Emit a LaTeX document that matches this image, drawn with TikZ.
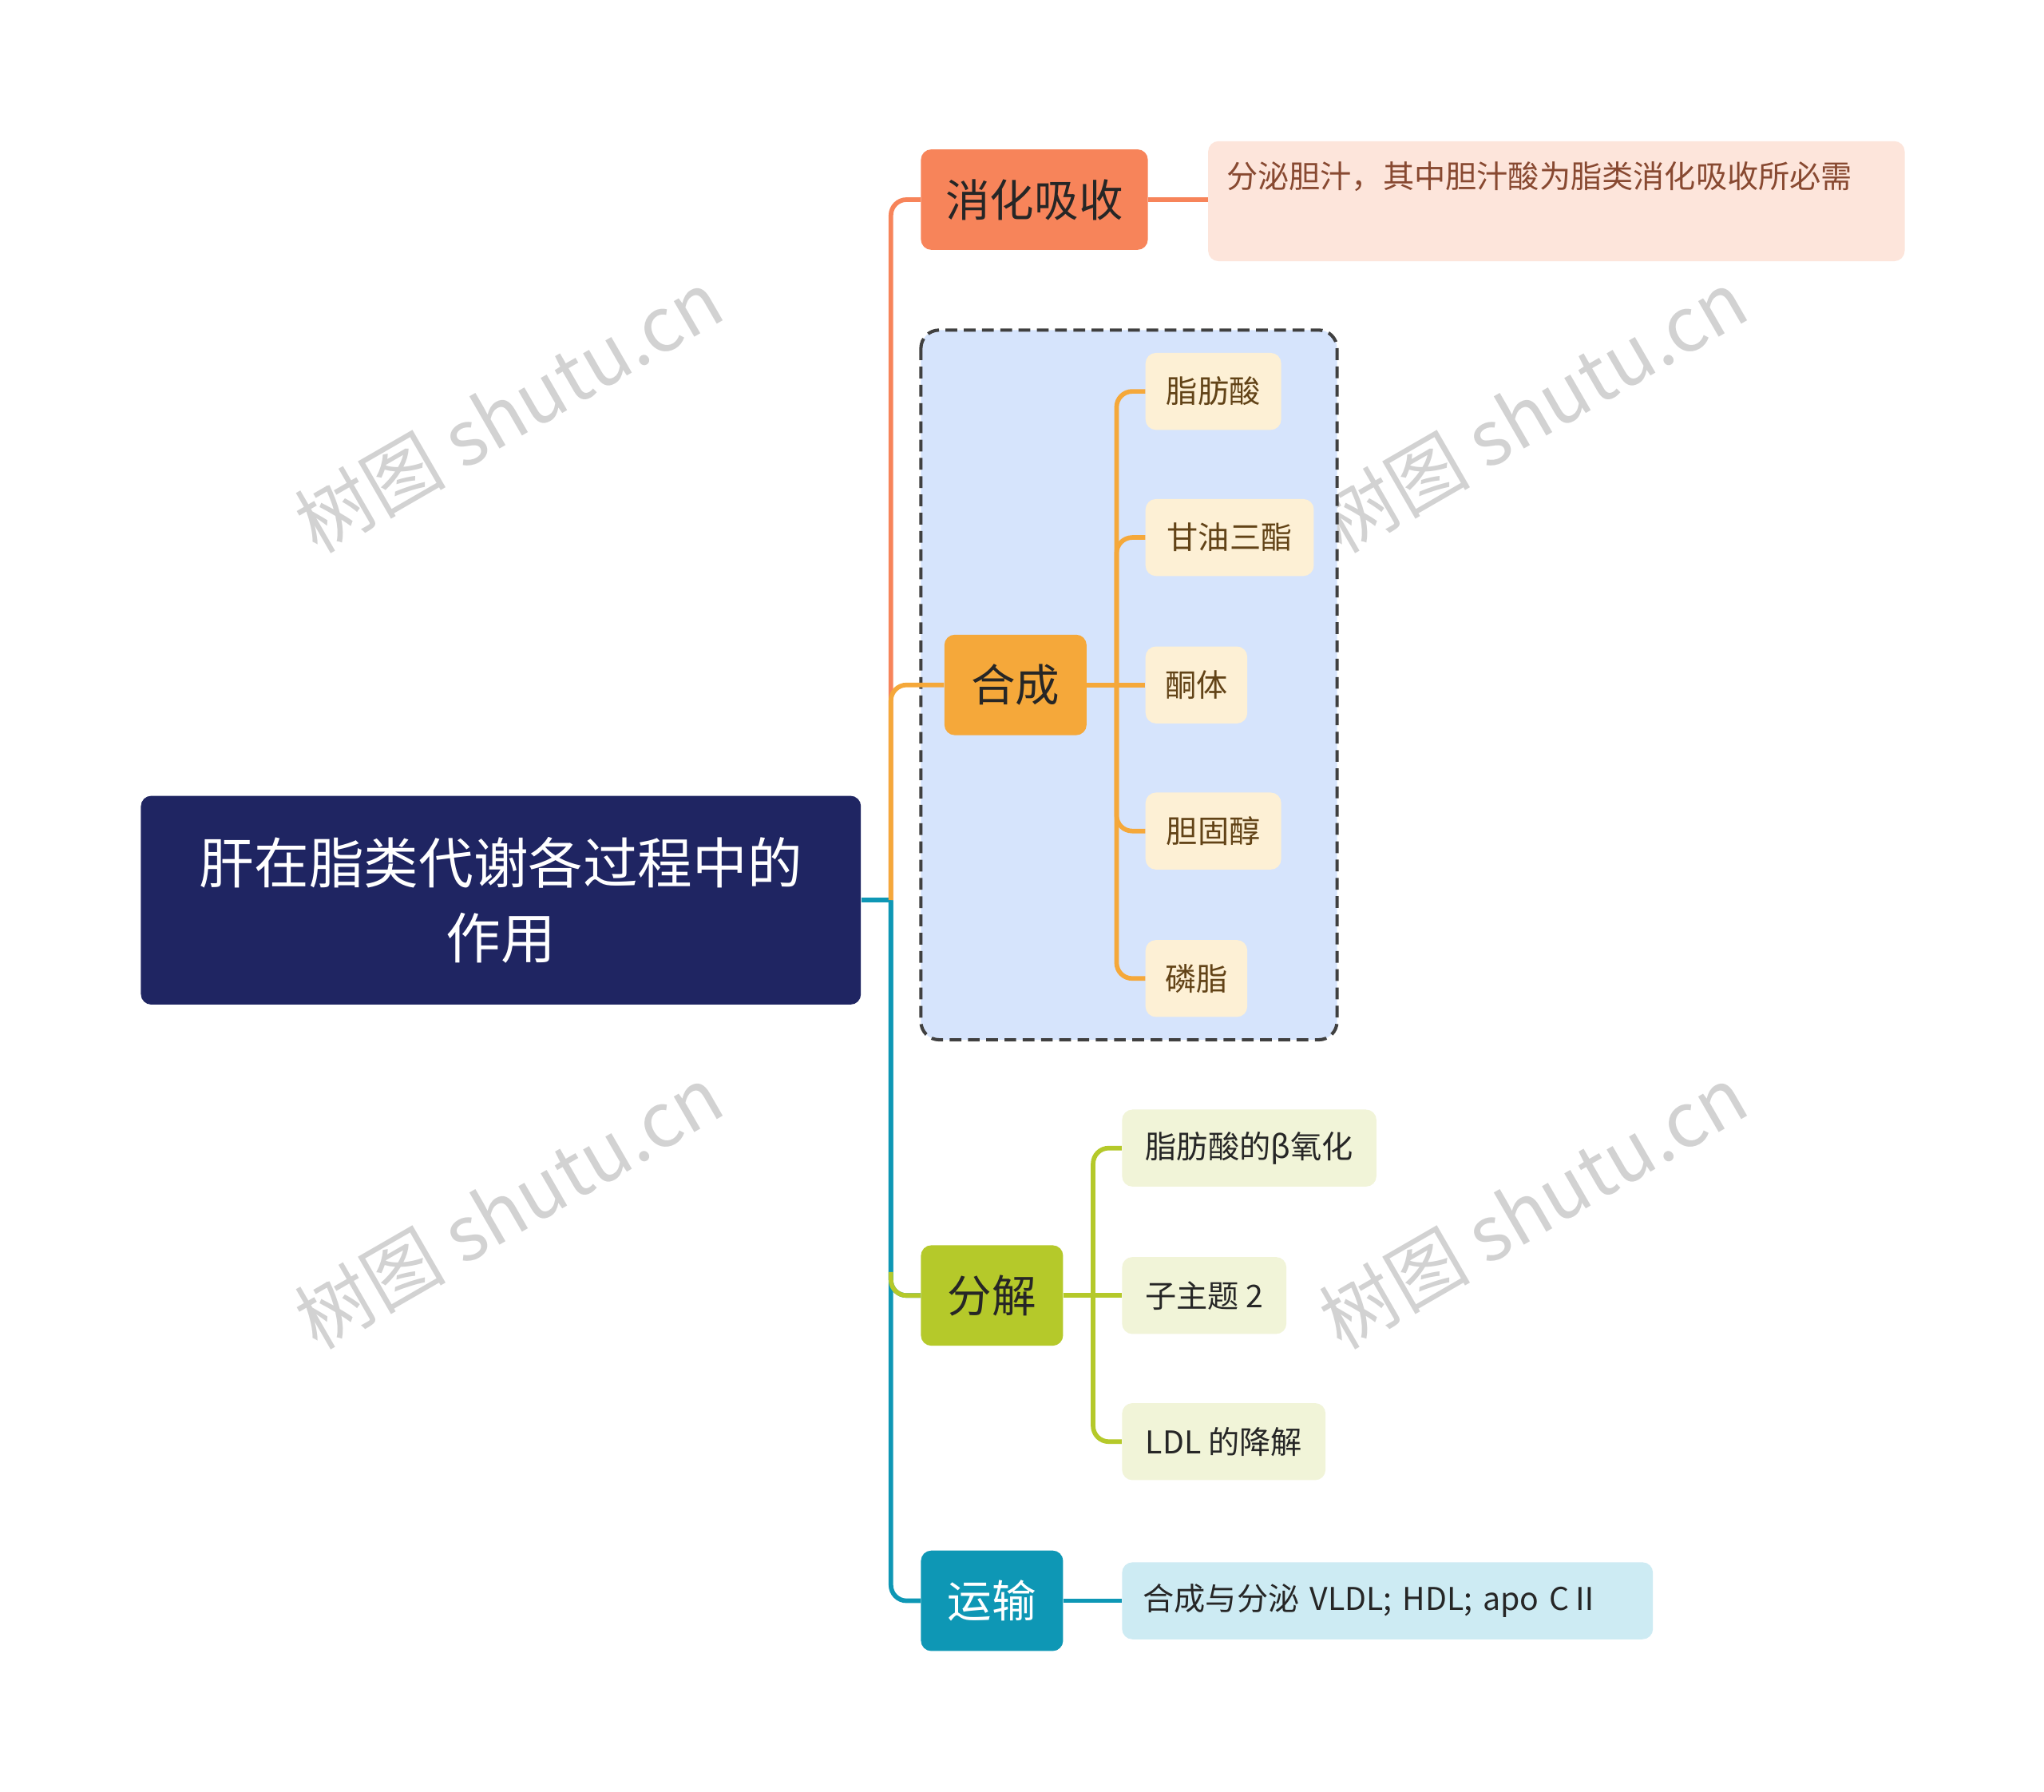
\documentclass[tikz,border=0pt]{standalone}
\usepackage{fontspec}
\setmainfont{Noto Sans CJK SC}
\usetikzlibrary{positioning}
\definecolor{rootc}{HTML}{1F2562}
\definecolor{orc}{HTML}{F7845A}
\definecolor{yec}{HTML}{F5A83A}
\definecolor{grc}{HTML}{B5C92A}
\definecolor{tec}{HTML}{0E97B5}
\definecolor{notec}{HTML}{FDE5DB}
\definecolor{boxc}{HTML}{D6E4FC}
\definecolor{ychild}{HTML}{FDF0D5}
\definecolor{gchild}{HTML}{F1F4D8}
\definecolor{tchild}{HTML}{CDEBF3}
\tikzset{
 box/.style={rounded corners=8pt,inner sep=0pt,align=center},
 lvl/.style={box,font=\fontsize{34}{40}\selectfont,minimum height=77pt},
 leaf/.style={box,font=\fontsize{24}{30}\selectfont,minimum height=59pt},
 conn/.style={line width=3.5pt,rounded corners=12pt},
 wm/.style={text=gray!35,font=\fontsize{58}{60}\selectfont,rotate=30}
}
\begin{document}
\begin{tikzpicture}[x=1pt,y=-1pt]
\useasboundingbox[fill=white] (0,0) rectangle (1567,1373);
\node[wm] (w1) at (390,315) {树图 shutu.cn};
\node[wm] (w2) at (1175,315) {树图 shutu.cn};
\node[wm] (w3) at (390,925) {树图 shutu.cn};
\node[wm] (w4) at (1175,925) {树图 shutu.cn};
\draw[dashed,line width=2.5pt,draw=black!75,fill=boxc,rounded corners=14pt,dash pattern=on 9pt off 5pt] (706,253) rectangle (1025,797);
\node[box,fill=rootc,text=white,minimum width=552pt,minimum height=160pt,font=\fontsize{42}{58}\selectfont] (root) at (384,690) {肝在脂类代谢各过程中的\\作用};
\node[lvl,fill=orc,text=black!85,minimum width=174pt] (a) at (793,153) {消化吸收};
\node[lvl,fill=yec,text=black!85,minimum width=109pt] (b) at (778.5,525) {合成};
\node[lvl,fill=grc,text=black!85,minimum width=109pt] (c) at (760.5,993) {分解};
\node[lvl,fill=tec,text=white,minimum width=109pt] (d) at (760.5,1227) {运输};
\node[box,fill=notec,minimum width=534pt,minimum height=92pt,anchor=north west] (an) at (926,108) {};
\node[font=\fontsize{24}{30}\selectfont,text=orc!55!black,anchor=north west,inner sep=0pt] (ant) at (940,124) {分泌胆汁，其中胆汁酸为脂类消化吸收所必需};
\foreach \n/\t/\w/\y in {b1/脂肪酸/104/300, b2/甘油三酯/129/412, b3/酮体/78/525, b4/胆固醇/104/637, b5/磷脂/78/750}
  \node[leaf,fill=ychild,text=yec!40!black,minimum width=\w pt,anchor=west] (\n) at (878,\y) {\t};
\foreach \n/\t/\w/\y in {c1/脂肪酸的β氧化/195/880, c2/子主题 2/126/993, c3/LDL 的降解/156/1105}
  \node[leaf,fill=gchild,text=black!85,minimum width=\w pt,anchor=west] (\n) at (860,\y) {\t};
\node[leaf,fill=tchild,text=black!85,inner xsep=16pt,text width=375pt,align=left,anchor=west] (d1) at (860,1227) {合成与分泌 VLDL; HDL; apo CⅡ};
\coordinate (r) at (683,690);
\draw[conn,tec] (root.east) -- (r);
\draw[conn,orc] (r) |- (a.west);
\draw[conn,yec] (r) |- (b.west);
\draw[conn,tec] (r) |- (c.west);
\draw[conn,tec] (r) |- (d.west);
\draw[conn,grc] (683,975) |- (c.west);
\draw[conn,orc] (a.east) -- (an.west|-a.east);
\draw[conn,tec] (d.east) -- (d1.west);
\coordinate (bj) at (856,525);
\draw[conn,yec] (b.east) -- (bj);
\foreach \n in {b1,b2,b4,b5} \draw[conn,yec] (bj) |- (\n.west);
\draw[conn,yec] (bj) -- (b3.west);
\coordinate (cj) at (838,993);
\draw[conn,grc] (c.east) -- (cj);
\foreach \n in {c1,c3} \draw[conn,grc] (cj) |- (\n.west);
\draw[conn,grc] (cj) -- (c2.west);
\end{tikzpicture}
\end{document}
